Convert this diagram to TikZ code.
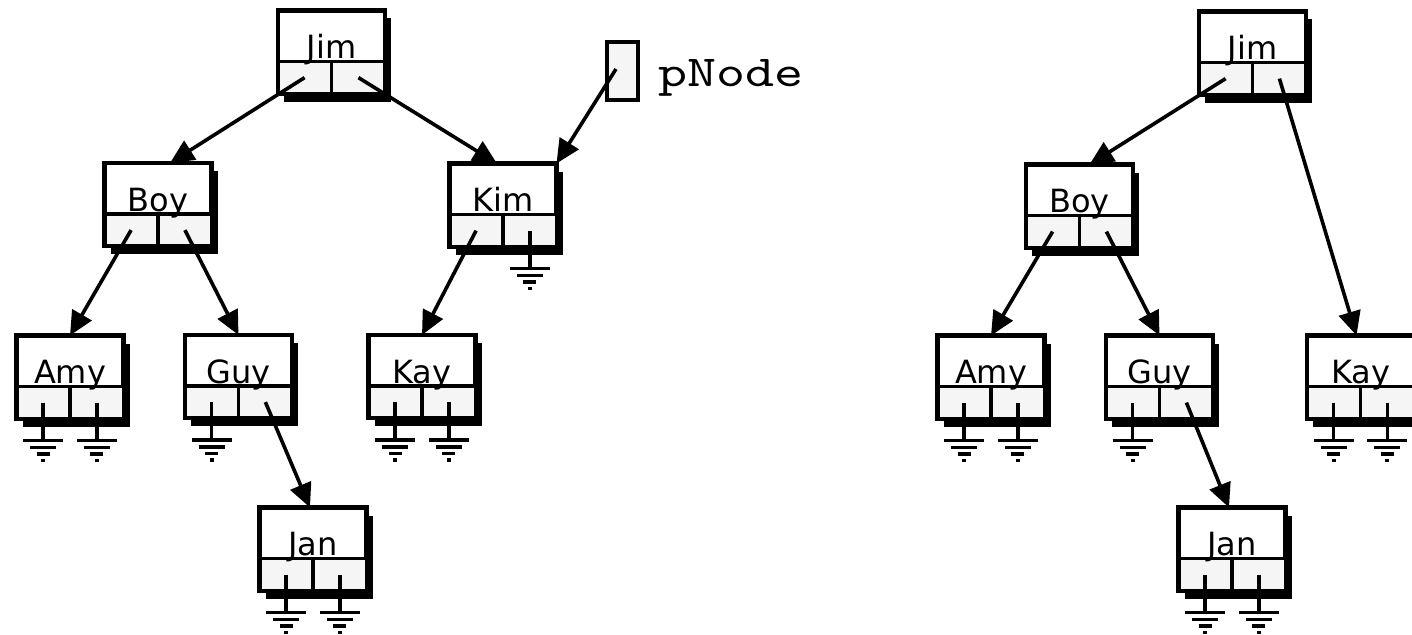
\documentclass[tikz,border=0pt]{standalone}
\usepackage{fontspec}
\usepackage{graphicx}
\newfontfamily\lblfont{DejaVu Sans}
\usetikzlibrary{arrows.meta,shadows}
\definecolor{cellgray}{RGB}{245,245,245}
\newcommand\bnode[4]{%
  \node[rec] (#1) at (#2,#3) {};
  \fill[cellgray] ({#2-51.5},{#3+9.5}) rectangle ({#2+51.5},{#3+39.5});
  \draw[ln] ({#2-53.5},{#3+9.5}) -- ({#2+53.5},{#3+9.5});
  \draw[ln] (#2,{#3+9.5}) -- (#2,{#3+41.5});
  \coordinate (#1-l) at ({#2-26.9},{#3+25.6});
  \coordinate (#1-r) at ({#2+26.9},{#3+25.6});
  \node[lbl, anchor=base] (#1-t) at (#2,{#3+6.5}) {#4};
}
\newcommand\gnd[1]{%
  \draw[ln] (#1) -- ++(0,38);
  \draw[ln] ([shift={(-20,38)}]#1) -- ++(40,0);
  \draw[ln] ([shift={(-13,45)}]#1) -- ++(26,0);
  \draw[ln] ([shift={(-6.5,51.5)}]#1) -- ++(13,0);
  \draw[ln] ([shift={(-2,58)}]#1) -- ++(4,0);
}
\begin{document}
\begin{tikzpicture}[x=1pt,y=-1pt,
  rec/.style={draw, line width=4.5pt, fill=white, minimum width=107pt,
    minimum height=83pt, inner sep=0pt, outer sep=0pt,
    drop shadow={shadow xshift=6pt, shadow yshift=-8pt, fill=black, opacity=1}},
  pbox/.style={draw, line width=4pt, fill=cellgray, minimum width=31pt,
    minimum height=58pt, inner sep=0pt, outer sep=0pt},
  ln/.style={line width=3.6pt},
  lbl/.style={inner sep=0pt, font=\lblfont\fontsize{32}{38}\selectfont},
  arr/.style={line width=3.6pt, -{Triangle[length=24pt,width=22pt]}}]
\useasboundingbox (0,0) rectangle (1412,634);
\clip (0,0) rectangle (1412,634);
% ---------- left tree ----------
\bnode{Jim1}{331.5}{52}{Jim}
\bnode{Boy1}{158}{204.5}{Boy}
\bnode{Kim1}{503}{205}{Kim}
\bnode{Amy1}{70}{377}{Amy}
\bnode{Guy1}{238.5}{376.5}{Guy}
\bnode{Kay1}{422}{376.5}{Kay}
\bnode{Jan1}{313}{549}{Jan}
\node[pbox] (p) at (622,71) {};
\coordinate (p-in) at (616,69);
\node[anchor=base west, inner sep=0pt] (plbl) at (658,86) {\resizebox{145pt}{27pt}{\ttfamily pNode}};
\draw[arr] (Jim1-l) -- ([xshift=12pt]Boy1.north);
\draw[arr] (Jim1-r) -- ([xshift=-6pt]Kim1.north);
\draw[arr] (p-in) -- (Kim1.north east);
\draw[arr] (Boy1-l) -- (Amy1.north);
\draw[arr] (Boy1-r) -- (Guy1.north);
\draw[arr] (Kim1-l) -- (Kay1.north);
\draw[arr] (Guy1-r) -- ([xshift=-3pt]Jan1.north);
\gnd{Amy1-l}\gnd{Amy1-r}\gnd{Guy1-l}\gnd{Kim1-r}
\gnd{Kay1-l}\gnd{Kay1-r}\gnd{Jan1-l}\gnd{Jan1-r}
% ---------- right tree ----------
\bnode{Jim2}{1252.5}{53}{Jim}
\bnode{Boy2}{1079.5}{206}{Boy}
\bnode{Amy2}{991}{377}{Amy}
\bnode{Guy2}{1159.5}{377}{Guy}
\bnode{Kay2}{1360.5}{377}{Kay}
\bnode{Jan2}{1232}{549}{Jan}
\draw[arr] (Jim2-l) -- ([xshift=10pt]Boy2.north);
\draw[arr] (Jim2-r) -- ([xshift=-4pt]Kay2.north);
\draw[arr] (Boy2-l) -- (Amy2.north);
\draw[arr] (Boy2-r) -- (Guy2.north);
\draw[arr] (Guy2-r) -- ([xshift=-3pt]Jan2.north);
\gnd{Amy2-l}\gnd{Amy2-r}\gnd{Guy2-l}
\gnd{Kay2-l}\gnd{Kay2-r}\gnd{Jan2-l}\gnd{Jan2-r}
\end{tikzpicture}
\end{document}
